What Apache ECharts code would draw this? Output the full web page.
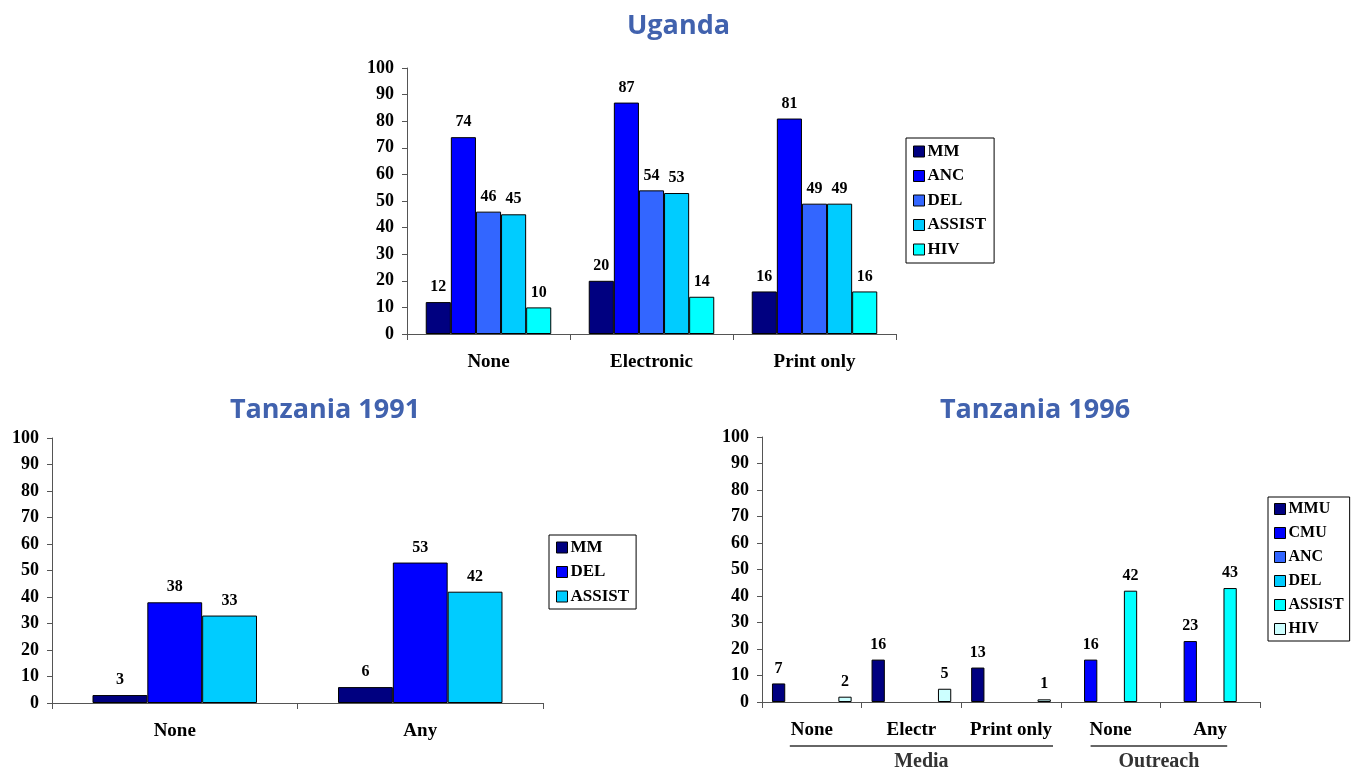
<!DOCTYPE html>
<html>
<head>
<meta charset="utf-8">
<script src="https://cdn.jsdelivr.net/npm/echarts@6/dist/echarts.min.js"></script>
<style>
  body { margin: 0; background: #fff; }
  #wrap { position: relative; width: 1357px; height: 771px; }
  .box { position: absolute; }
</style>
</head>
<body>
<div id="wrap">
  <div id="uganda" class="box" style="left:0;top:0;width:1357px;height:380px;"></div>
  <div id="tz91" class="box" style="left:0;top:380px;width:680px;height:391px;"></div>
  <div id="tz96" class="box" style="left:680px;top:380px;width:677px;height:391px;"></div>
</div>
<script>
// 数据
const yTicks = [0, 100, 10]; // min, max, interval

const ugCats = ['None', 'Electronic', 'Print only'];
const ugMM = [12, 20, 16];
const ugANC = [74, 87, 81];
const ugDEL = [46, 54, 49];
const ugASSIST = [45, 53, 49];
const ugHIV = [10, 14, 16];

const tz91Cats = ['None', 'Any'];
const tz91MM = [3, 6];
const tz91DEL = [38, 53];
const tz91ASSIST = [33, 42];

const tz96Cats = ['None', 'Electr', 'Print only', 'None', 'Any'];
const tz96MMU = [7, 16, 13, '-', '-'];
const tz96CMU = ['-', '-', '-', 16, 23];
const tz96ANC = ['-', '-', '-', '-', '-'];
const tz96DEL = ['-', '-', '-', '-', '-'];
const tz96ASSIST = ['-', '-', '-', 42, 43];
const tz96HIV = [2, 5, 1, '-', '-'];
const tz96Groups = ['Media', 'Outreach'];

// 公共样式
const serif = "'Liberation Serif', 'Times New Roman', serif";
const titleStyle = { color: '#4162ae', fontFamily: "'Open Sans', 'DejaVu Sans', sans-serif", fontWeight: 'bold', fontSize: 27 };

function yAxis() {
  return {
    type: 'value', min: yTicks[0], max: yTicks[1], interval: yTicks[2],
    axisLine: { show: true, lineStyle: { color: '#555', width: 1 } },
    axisTick: { show: true, length: 5, lineStyle: { color: '#555' } },
    splitLine: { show: false },
    axisLabel: { color: '#000', fontFamily: serif, fontWeight: 'bold', fontSize: 18, margin: 13 }
  };
}

function xAxis(cats) {
  return {
    type: 'category', data: cats,
    axisLine: { lineStyle: { color: '#555', width: 1 } },
    axisTick: { show: true, length: 6, lineStyle: { color: '#555' } },
    axisLabel: { color: '#000', fontFamily: serif, fontWeight: 'bold', fontSize: 19, margin: 19, interval: 0 }
  };
}

function bar(name, data, color, catGap) {
  return {
    name: name, type: 'bar', data: data,
    barGap: '0%', barCategoryGap: catGap,
    itemStyle: { color: color, borderColor: '#000', borderWidth: 1 },
    label: { show: true, position: 'top', distance: 7, color: '#000', fontFamily: serif, fontWeight: 'bold', fontSize: 16 }
  };
}

function legend(left, top, size, gap, pad) {
  return {
    orient: 'vertical', left: left, top: top,
    icon: 'rect', itemWidth: 11, itemHeight: 11, itemGap: gap,
    padding: pad, borderColor: '#000', borderWidth: 1,
    itemStyle: { borderColor: '#000', borderWidth: 1 },
    textStyle: { color: '#000', fontFamily: serif, fontWeight: 'bold', fontSize: size, padding: [0, 0, 0, -2] }
  };
}

// Uganda
const ug = echarts.init(document.getElementById('uganda'));
ug.setOption({
  animation: false,
  title: { text: 'Uganda', left: 'center', top: 8, textStyle: titleStyle },
  grid: { left: 407, top: 68, width: 489, height: 266 },
  legend: legend(906, 138, 17, 7.5, [5, 8, 5, 7]),
  xAxis: xAxis(ugCats),
  yAxis: yAxis(),
  series: [
    bar('MM', ugMM, '#000080', '23%'),
    bar('ANC', ugANC, '#0000ff', '23%'),
    bar('DEL', ugDEL, '#3366ff', '23%'),
    bar('ASSIST', ugASSIST, '#00ccff', '23%'),
    bar('HIV', ugHIV, '#00ffff', '23%')
  ]
});

// Tanzania 1991
const t91 = echarts.init(document.getElementById('tz91'));
t91.setOption({
  animation: false,
  title: { text: 'Tanzania 1991', left: 320, textAlign: 'center', top: 12, textStyle: titleStyle },
  grid: { left: 52, top: 58, width: 491, height: 265 },
  legend: legend(549, 155, 17, 7.5, [4, 7, 4, 7]),
  xAxis: xAxis(tz91Cats),
  yAxis: yAxis(),
  series: [
    bar('MM', tz91MM, '#000080', '33%'),
    bar('DEL', tz91DEL, '#0000ff', '33%'),
    bar('ASSIST', tz91ASSIST, '#00ccff', '33%')
  ]
});

// Tanzania 1996
const t96 = echarts.init(document.getElementById('tz96'));
t96.setOption({
  animation: false,
  title: { text: 'Tanzania 1996', left: 350, textAlign: 'center', top: 12, textStyle: titleStyle },
  grid: { left: 82, top: 57, width: 498, height: 265 },
  legend: legend(588, 117, 16, 8, [4, 6, 4, 6]),
  xAxis: xAxis(tz96Cats),
  yAxis: yAxis(),
  series: [
    bar('MMU', tz96MMU, '#000080', '20%'),
    bar('CMU', tz96CMU, '#0000ff', '20%'),
    bar('ANC', tz96ANC, '#3366ff', '20%'),
    bar('DEL', tz96DEL, '#00ccff', '20%'),
    bar('ASSIST', tz96ASSIST, '#00ffff', '20%'),
    bar('HIV', tz96HIV, '#ccffff', '20%')
  ]
});

// 分组下划线和组名 Media / Outreach
const px = i => t96.convertToPixel({ gridIndex: 0 }, [i, 0]);
const p0 = px(0), p2 = px(2), p3 = px(3), p4 = px(4);
const lineY = p0[1] + 44;
const groups = [
  { name: tz96Groups[0], x1: p0[0] - 22, x2: p2[0] + 42 },
  { name: tz96Groups[1], x1: p3[0] - 20, x2: p4[0] + 17 }
];
const els = [];
groups.forEach(g => {
  els.push({ type: 'line', shape: { x1: g.x1, y1: lineY, x2: g.x2, y2: lineY }, style: { stroke: '#666', lineWidth: 2 } });
  els.push({
    type: 'text', x: (g.x1 + g.x2) / 2, y: lineY + 16,
    style: { text: g.name, fill: '#333', font: 'bold 20px ' + serif, align: 'center', verticalAlign: 'middle' }
  });
});
t96.setOption({ graphic: els });
</script>
</body>
</html>
